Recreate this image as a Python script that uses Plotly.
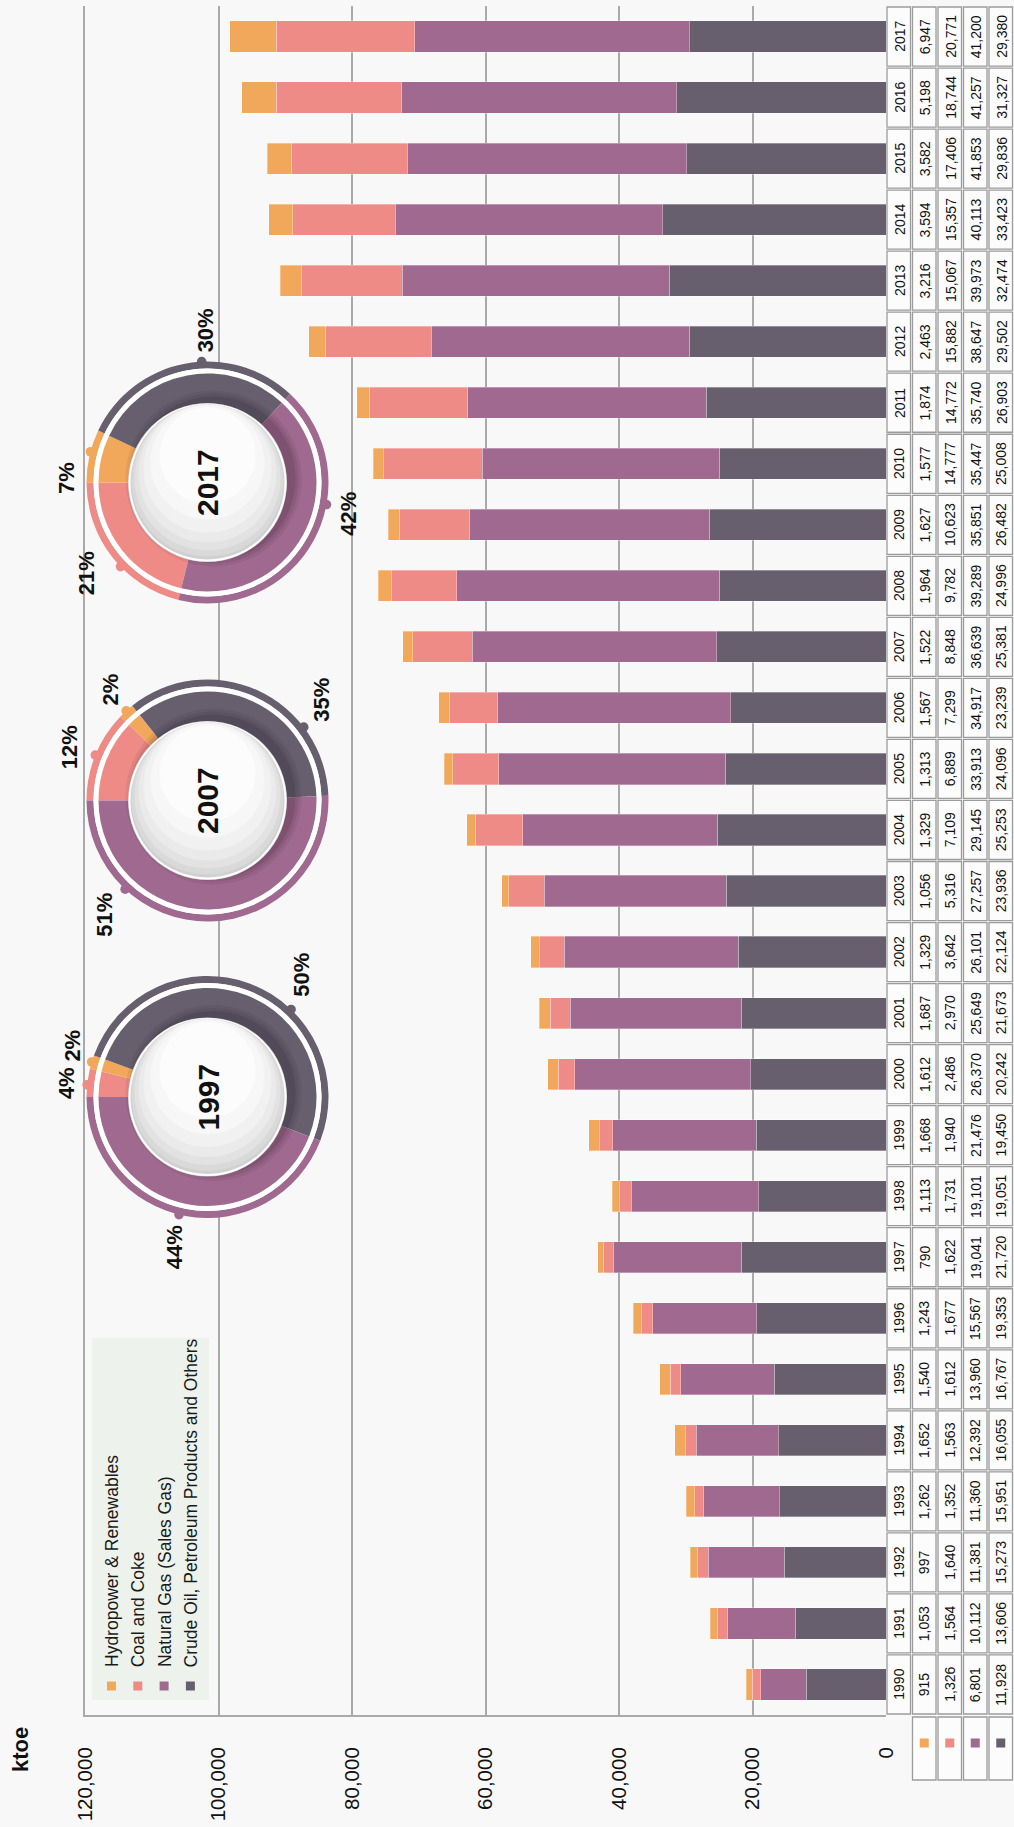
import math
import plotly.graph_objects as go

# ---------------- data ----------------
years = [str(y) for y in range(1990, 2018)]
hydro = [915, 1053, 997, 1262, 1652, 1540, 1243, 790, 1113, 1668, 1612, 1687, 1329, 1056,
         1329, 1313, 1567, 1522, 1964, 1627, 1577, 1874, 2463, 3216, 3594, 3582, 5198, 6947]
coal = [1326, 1564, 1640, 1352, 1563, 1612, 1677, 1622, 1731, 1940, 2486, 2970, 3642, 5316,
        7109, 6889, 7299, 8848, 9782, 10623, 14777, 14772, 15882, 15067, 15357, 17406, 18744, 20771]
gas = [6801, 10112, 11381, 11360, 12392, 13960, 15567, 19041, 19101, 21476, 26370, 25649, 26101, 27257,
       29145, 33913, 34917, 36639, 39289, 35851, 35447, 35740, 38647, 39973, 40113, 41853, 41257, 41200]
crude = [11928, 13606, 15273, 15951, 16055, 16767, 19353, 21720, 19051, 19450, 20242, 21673, 22124, 23936,
         25253, 24096, 23239, 25381, 24996, 26482, 25008, 26903, 29502, 32474, 33423, 29836, 31327, 29380]
series_names = ["Hydropower & Renewables", "Coal and Coke", "Natural Gas (Sales Gas)",
                "Crude Oil, Petroleum Products and Others"]
x_ticks = [0, 20000, 40000, 60000, 80000, 100000, 120000]
donut_years = ["1997", "2007", "2017"]
unit_label = "ktoe"

# ---------------- style ----------------
C_HYDRO, C_COAL, C_GAS, C_CRUDE = "#F1A85B", "#EF8B87", "#A0698F", "#675F6E"
GRID = "#a9a9a9"
BG = "#f8f8f8"
FONT = "Liberation Sans, Arial, sans-serif"
W, H = 1014, 1827
ML, MR, MT, MB = 85, 128, 6, 112
PW, PH = W - ML - MR, H - MT - MB


def px_x(px):
    return (px - ML) / PW


def px_y(py):
    return (H - MB - py) / PH


fig = go.Figure()

# ---------------- stacked bars (rotated chart: horizontal bars, reversed value axis) ----------------
for name, vals, col in [(series_names[3], crude, C_CRUDE), (series_names[2], gas, C_GAS),
                        (series_names[1], coal, C_COAL), (series_names[0], hydro, C_HYDRO)]:
    fig.add_trace(go.Bar(y=years, x=vals, orientation="h", name=name, showlegend=False,
                         marker=dict(color=col, line=dict(color="rgba(255,255,255,0.5)", width=0.6))))

shapes = []
annotations = []

# ---------------- data table on the right ----------------
TABLE_COLS = [886, 911.5, 937, 962.5, 988, 1013.5]
CELL_LINE = "#9c9c9c"
CELL_FILL = "#fcfcfc"
table_series = [hydro, coal, gas, crude]
row_inset = 1.0 / (PH / len(years))
for i, yr in enumerate(years):
    for c in range(5):
        shapes.append(dict(type="rect", xref="paper", yref="y",
                           x0=px_x(TABLE_COLS[c] + 1), x1=px_x(TABLE_COLS[c + 1] - 1),
                           y0=i - 0.5 + row_inset, y1=i + 0.5 - row_inset,
                           line=dict(color=CELL_LINE, width=1.3), fillcolor=CELL_FILL, layer="above"))
        txt = yr if c == 0 else f"{table_series[c - 1][i]:,}"
        annotations.append(dict(xref="paper", yref="y", x=px_x((TABLE_COLS[c] + TABLE_COLS[c + 1]) / 2 + 0.5),
                                y=i, text=txt, textangle=-90, showarrow=False,
                                font=dict(family=FONT, size=14, color="#111"),
                                xanchor="center", yanchor="middle"))
# marker row under the table
MARK_TOP, MARK_BOT = 1717, 1780
for c, col in enumerate([C_HYDRO, C_COAL, C_GAS, C_CRUDE]):
    x0p, x1p = TABLE_COLS[c + 1] + 1, TABLE_COLS[c + 2] - 1
    shapes.append(dict(type="rect", xref="paper", yref="paper", x0=px_x(x0p), x1=px_x(x1p),
                       y0=px_y(MARK_BOT), y1=px_y(MARK_TOP),
                       line=dict(color=CELL_LINE, width=1.3), fillcolor=CELL_FILL, layer="above"))
    mx, my = (x0p + x1p) / 2, 1743
    shapes.append(dict(type="rect", xref="paper", yref="paper", x0=px_x(mx - 4.5), x1=px_x(mx + 4.5),
                       y0=px_y(my + 4.5), y1=px_y(my - 4.5), line=dict(width=0), fillcolor=col, layer="above"))

# ---------------- legend (rotated) ----------------
shapes.append(dict(type="rect", xref="paper", yref="paper", x0=px_x(92), x1=px_x(209),
                   y0=px_y(1700), y1=px_y(1338), line=dict(width=0), fillcolor="#edf3ec", layer="above"))
for k, (nm, col) in enumerate(zip(series_names, [C_HYDRO, C_COAL, C_GAS, C_CRUDE])):
    lx = 111.5 + k * 26.3
    shapes.append(dict(type="rect", xref="paper", yref="paper", x0=px_x(lx - 4.5), x1=px_x(lx + 4.5),
                       y0=px_y(1690.5), y1=px_y(1681.5), line=dict(width=0), fillcolor=col, layer="above"))
    annotations.append(dict(xref="paper", yref="paper", x=px_x(lx + 0.5), y=px_y(1669), text=nm,
                            textangle=-90, showarrow=False, xanchor="center", yanchor="bottom",
                            font=dict(family=FONT, size=17.5, color="#1a1a1a")))

# unit label
annotations.append(dict(xref="paper", yref="paper", x=px_x(20), y=px_y(1750), text=f"<b>{unit_label}</b>",
                        textangle=-90, showarrow=False, xanchor="center", yanchor="middle",
                        font=dict(family=FONT, size=22, color="#111")))

# ---------------- donuts ----------------
DONUT_CENTER = {"1997": (207.5, 1097), "2007": (207.5, 800.5), "2017": (207.5, 482.5)}
# number of leading slices drawn before the 9 o'clock start line
DONUT_LEAD = {"1997": 0, "2007": 0, "2017": 1}
R_RING_OUT, R_RING_IN, R_OUT, R_HOLE = 121, 114, 109, 78.5
# angle offsets (deg, counter-clockwise) to keep labels / dots apart
DOT_NUDGE = {"1997": [1, 0, -23, -3], "2007": [0, 0, -28, -44], "2017": [6, -2, -8, 18]}
LABEL_NUDGE = {"1997": [1, -4, -17, -2], "2007": [1, -1, -24, -43], "2017": [-1, 11, -10, 16]}
slice_colors = [C_COAL, C_HYDRO, C_CRUDE, C_GAS]


def circ(cx, cy, r, fill, line_color=None, lw=0):
    return dict(type="circle", xref="paper", yref="paper", x0=px_x(cx - r), x1=px_x(cx + r),
                y0=px_y(cy + r), y1=px_y(cy - r), fillcolor=fill,
                line=dict(color=line_color or "rgba(0,0,0,0)", width=lw), layer="above")


def dom(cx, cy, r):
    return dict(x=[px_x(cx - r), px_x(cx + r)], y=[px_y(cy + r), px_y(cy - r)])


for yr in donut_years:
    i = years.index(yr)
    vals = [coal[i], hydro[i], crude[i], gas[i]]
    tot = sum(vals)
    fr = [v / tot for v in vals]
    lead = sum(fr[:DONUT_LEAD[yr]])
    start = 180 + 360 * lead  # math angle where first slice begins (slices run clockwise)
    rot = 90 - start
    cx, cy = DONUT_CENTER[yr]
    common = dict(sort=False, direction="clockwise", rotation=rot, textinfo="none",
                  hoverinfo="skip", showlegend=False)
    fig.add_trace(go.Pie(values=vals, marker=dict(colors=slice_colors), hole=R_RING_IN / R_RING_OUT,
                         domain=dom(cx, cy, R_RING_OUT), **common))
    fig.add_trace(go.Pie(values=[1], marker=dict(colors=["#ffffff"]), domain=dom(cx, cy, R_RING_IN),
                         sort=False, textinfo="none", hoverinfo="skip", showlegend=False))
    fig.add_trace(go.Pie(values=vals, marker=dict(colors=slice_colors), hole=R_HOLE / R_OUT,
                         domain=dom(cx, cy, R_OUT), **common))

    # soft inner shadow on the ring (upper-right side)
    for r, a in ((88, 0.07), (85, 0.09), (82, 0.12)):
        shapes.append(circ(cx + 6, cy - 4, r, f"rgba(30,20,35,{a})"))
    # centre disc with a soft vertical gradient
    shapes.append(circ(cx, cy, R_HOLE + 1, "#c9c9c9"))
    shapes.append(circ(cx, cy, R_HOLE - 0.5, "#d0d0d0", "rgba(255,255,255,0.95)", 2))
    for r, dy, col in [(76, -2, "#d9d9d9"), (73, -5, "#e2e2e2"), (69, -9, "#eaeaea"),
                       (64, -14, "#f1f1f1"), (57, -20, "#f7f7f7"), (48, -27, "#fcfcfc")]:
        shapes.append(circ(cx, cy + dy, r, col))
    annotations.append(dict(xref="paper", yref="paper", x=px_x(cx), y=px_y(cy), text=f"<b>{yr}</b>",
                            textangle=-90, showarrow=False, xanchor="center", yanchor="middle",
                            font=dict(family=FONT, size=30, color="#111")))

    cum = 0
    for k in range(4):
        mid = start - 360 * (cum + fr[k] / 2)
        cum += fr[k]
        # dot on the outer ring
        a = math.radians(mid + DOT_NUDGE[yr][k])
        dx, dy = cx + R_RING_OUT * math.cos(a), cy - R_RING_OUT * math.sin(a)
        shapes.append(circ(dx, dy, 4.8, slice_colors[k]))
        # percentage label
        txt = f"{round(fr[k] * 100)}%"
        b = math.radians(mid + LABEL_NUDGE[yr][k])
        half_len = 7.5 * len(txt) - 1
        support = abs(math.cos(b)) * 9.5 + abs(math.sin(b)) * half_len
        rl = R_RING_OUT + 2 + 8 + support
        annotations.append(dict(xref="paper", yref="paper", x=px_x(cx + rl * math.cos(b)),
                                y=px_y(cy - rl * math.sin(b)), text=f"<b>{txt}</b>", textangle=-90,
                                showarrow=False, xanchor="center", yanchor="middle",
                                font=dict(family=FONT, size=22, color="#111")))

fig.update_layout(
    width=W, height=H, margin=dict(l=ML, r=MR, t=MT, b=MB),
    paper_bgcolor=BG, plot_bgcolor="rgba(0,0,0,0)",
    barmode="stack", bargap=0.49, showlegend=False,
    shapes=shapes, annotations=annotations,
    xaxis=dict(range=[120000, 0], tickvals=x_ticks, tickformat=",", tickangle=-90,
               showgrid=True, gridcolor=GRID, gridwidth=1.6, zeroline=False,
               showline=True, linecolor=GRID, linewidth=2, ticks="", ticklabelstandoff=22,
               tickfont=dict(family=FONT, size=20.5, color="#111"), fixedrange=True),
    yaxis=dict(type="category", categoryorder="array", categoryarray=years, range=[-0.5, len(years) - 0.5],
               showticklabels=False, showgrid=False, zeroline=False, showline=True,
               linecolor=GRID, linewidth=2, ticks="", fixedrange=True),
)

fig.write_html("out.html", config={"displayModeBar": False},
               post_script="document.body.style.margin='0';document.body.style.overflow='hidden';"
                           "document.documentElement.style.background='" + BG + "';")
